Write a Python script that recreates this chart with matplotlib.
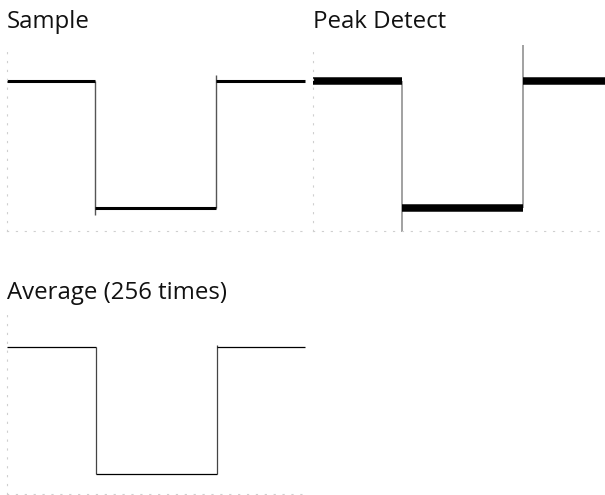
import matplotlib.pyplot as plt

plt.rcParams['font.family'] = ['Open Sans', 'DejaVu Sans']

# square pulse as seen on the scope screen (10 div across, 8 div high)
titles = ["Sample", "Peak Detect", "Average (256 times)"]
fall_t = [2.95, 2.98, 2.99]      # falling edge time (div)
rise_t = [7.01, 7.04, 7.05]      # rising edge time (div)
high_v = [6.45, 6.45, 6.32]      # high level (div)
low_v = [0.99, 1.01, 0.86]       # low level (div)
fall_min = [0.69, -0.05, 0.86]   # lowest point of falling edge
rise_max = [6.71, 8.0, 6.40]     # highest point of rising edge
t_start = 0.0
t_end = 10.0

W, H = 605, 495
fig = plt.figure(figsize=(W / 100, H / 100), dpi=100)

# panel boxes in pixels: left, top, width, height
boxes = [(7, 45, 298, 186), (313, 45, 298, 186), (7, 308, 298, 186)]
title_pos = [(7, 28), (313, 28), (7, 299)]

trace_lw = [2.2, 5.4, 0.9]
edge_col = ['#555555', '#9a9a9a', '#444444']
edge_lw = [1.0, 1.3, 0.9]

for i in range(3):
    l, t, w, h = boxes[i]
    ax = fig.add_axes([l / W, (H - t - h) / H, w / W, h / H])
    ax.set_xlim(0, 10)
    ax.set_ylim(0, 8)
    ax.set_xticks([])
    ax.set_yticks([])
    for s in ['top', 'right']:
        ax.spines[s].set_visible(False)
    for s in ['left', 'bottom']:
        ax.spines[s].set_linestyle((0, (1, 7)))
        ax.spines[s].set_color('#cfcfcf')
        ax.spines[s].set_linewidth(0.8)

    # vertical edges
    ax.vlines([fall_t[i]], fall_min[i], high_v[i], color=edge_col[i],
              lw=edge_lw[i], clip_on=False)
    ax.vlines([rise_t[i]], low_v[i], rise_max[i], color=edge_col[i],
              lw=edge_lw[i], clip_on=False)
    # flat parts
    ax.hlines([high_v[i], low_v[i], high_v[i]],
              [t_start, fall_t[i], rise_t[i]],
              [fall_t[i], rise_t[i], t_end],
              color='black', lw=trace_lw[i], clip_on=False)

    tx, ty = title_pos[i]
    fig.text(tx / W, 1 - ty / H, titles[i], fontsize=17.3, va='baseline',
             ha='left', color='#111111')

fig.savefig('out.png', dpi=100)
